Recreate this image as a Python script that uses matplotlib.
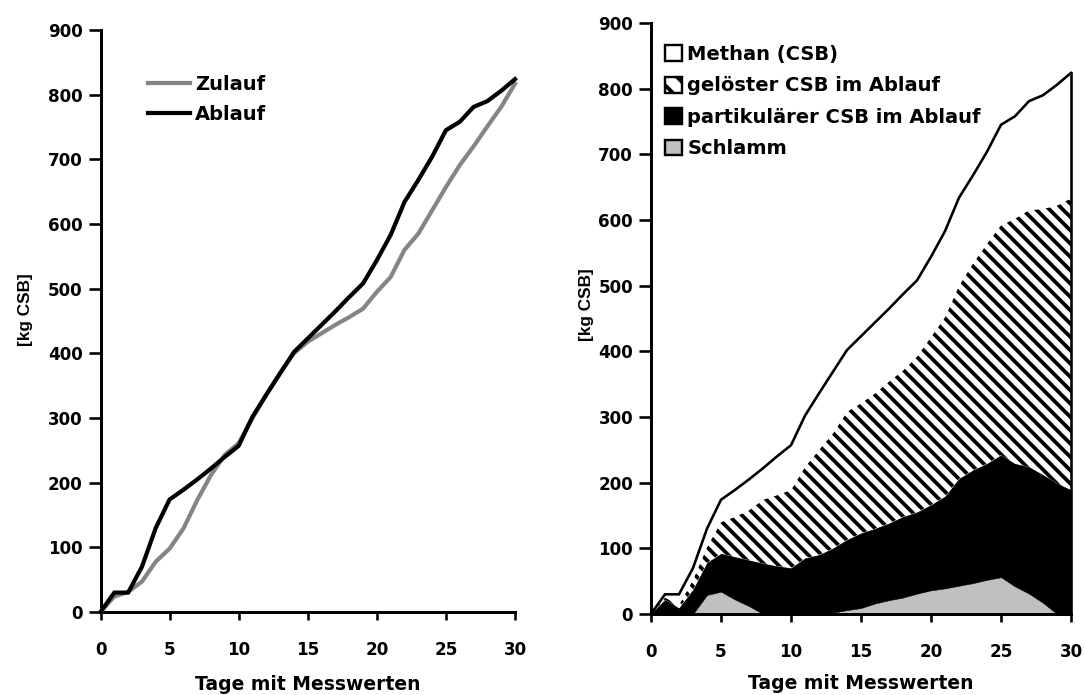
import matplotlib
matplotlib.use("Agg")
import matplotlib.pyplot as plt
from matplotlib.patches import Patch
import numpy as np

# ---- data -------------------------------------------------------------
days = list(range(31))

zulauf = [0, 24, 31, 47, 78, 98, 129, 173, 212, 243, 261, 300, 336, 370, 400,
          418, 431, 444, 456, 469, 495, 518, 560, 585, 621, 657, 691, 720, 751,
          781, 817]
ablauf = [0, 30, 30, 70, 130, 174, 189, 205, 222, 240, 257, 302, 336, 369, 402,
          423, 444, 465, 487, 508, 544, 583, 634, 668, 704, 745, 758, 781, 790,
          806, 824]

schlamm = [0, 0, 0, 0, 29, 34, 22, 12, 0, 0, 0, 0, 0, 2, 6, 9, 16, 21, 25, 31,
           36, 39, 43, 47, 52, 56, 42, 31, 17, 0, 0]
partikulaer = [0, 22, 9, 37, 49, 58, 65, 70, 77, 73, 70, 85, 90, 98, 107, 114,
               114, 117, 123, 124, 130, 140, 163, 172, 177, 186, 187, 193, 195,
               199, 189]
geloest = [0, 3, 5, 15, 24, 48, 61, 76, 97, 108, 119, 139, 160, 175, 195, 198,
           206, 216, 223, 237, 256, 273, 294, 315, 335, 350, 373, 391, 405, 423,
           444]
methan = [0, 5, 16, 18, 28, 34, 41, 47, 48, 59, 68, 78, 86, 94, 94, 102, 108,
          111, 116, 116, 122, 131, 134, 134, 140, 153, 156, 166, 173, 184, 191]

x_ticks = [0, 5, 10, 15, 20, 25, 30]
y_ticks = [0, 100, 200, 300, 400, 500, 600, 700, 800, 900]

left_labels = ["Zulauf", "Ablauf"]
right_labels = ["Methan (CSB)", "gelöster CSB im Ablauf",
                "partikulärer CSB im Ablauf", "Schlamm"]
xlabel = "Tage mit Messwerten"
ylabel = "[kg CSB]"

# ---- styling ----------------------------------------------------------
DPI = 120
W, H = 1085, 695
HATCH = "\\\\\\"


def pt(px):
    """pixel size -> points at the figure dpi"""
    return px * 72.0 / DPI


plt.rcParams["font.family"] = ["DejaVu Sans"]
plt.rcParams["font.weight"] = "bold"
plt.rcParams["hatch.linewidth"] = pt(3.8)

fig = plt.figure(figsize=(W / DPI, H / DPI), dpi=DPI)
fig.patch.set_facecolor("white")

tick_fs = pt(16.8)
legend_fs = pt(19.5)
xlabel_fs = pt(18.8)


def style_axes(ax):
    ax.set_xlim(0, 30)
    ax.set_ylim(0, 900)
    ax.set_xticks(x_ticks)
    ax.set_yticks(y_ticks)
    for s in ("top", "right"):
        ax.spines[s].set_visible(False)
    for s in ("left", "bottom"):
        ax.spines[s].set_linewidth(pt(3))
        ax.spines[s].set_capstyle("projecting")
    ax.tick_params(axis="y", direction="out", length=pt(12), width=pt(2.6),
                   pad=pt(6), labelsize=tick_fs)
    ax.tick_params(axis="x", direction="out", length=pt(8), width=pt(2.6),
                   pad=pt(21), labelsize=tick_fs)
    for lab in ax.get_xticklabels() + ax.get_yticklabels():
        lab.set_fontweight("bold")
    ax.set_xlabel(xlabel, fontsize=xlabel_fs, fontweight="bold")
    ax.set_ylabel(ylabel, fontsize=pt(17.2), fontweight="bold",
                  family=["Liberation Sans", "DejaVu Sans"])
    ax.set_facecolor("none")


# ---- left panel: cumulative loads --------------------------------------
ax1 = fig.add_axes([100.5 / W, 83 / H, 414.5 / W, 582 / H])
ax1.plot(days, zulauf, color="#858585", lw=pt(4.2), solid_joinstyle="miter",
         clip_on=False, label=left_labels[0], zorder=3)
ax1.plot(days, ablauf, color="black", lw=pt(4.2), solid_joinstyle="miter",
         clip_on=False, label=left_labels[1], zorder=4)
style_axes(ax1)
ax1.xaxis.set_label_coords(0.5, -0.108)
ax1.yaxis.set_label_coords(-0.163, 0.519)

leg1 = ax1.legend(loc="upper left", bbox_to_anchor=(148 / W, 1 - 75 / H),
                  bbox_transform=fig.transFigure, frameon=False,
                  fontsize=legend_fs, handlelength=2.15, handletextpad=0.25,
                  borderpad=0, borderaxespad=0, labelspacing=0.54)
for t in leg1.get_texts():
    t.set_fontweight("bold")

# ---- right panel: stacked COD balance ----------------------------------
ax2 = fig.add_axes([651 / W, 81 / H, 420 / W, 591 / H])
d = np.array(days)
s1 = np.array(schlamm, dtype=float)
s2 = s1 + np.array(partikulaer)
s3 = s2 + np.array(geloest)
s4 = s3 + np.array(methan)

ax2.fill_between(d, 0, s1, facecolor="#c0c0c0", edgecolor="#c0c0c0",
                 lw=0.3, zorder=1)
ax2.fill_between(d, s1, s2, facecolor="black", edgecolor="black",
                 lw=0.3, zorder=2)
ax2.fill_between(d, s2, s3, facecolor="white", edgecolor="black",
                 hatch=HATCH, lw=0, zorder=2)
ax2.fill_between(d, s3, s4, facecolor="white", edgecolor="none",
                 lw=0, zorder=2)
ax2.plot(d, s4, color="black", lw=pt(2.6), solid_joinstyle="miter",
         clip_on=False, zorder=4)
ax2.plot([d[-1], d[-1]], [0, s4[-1]], color="black", lw=pt(2.6),
         clip_on=False, zorder=4)
style_axes(ax2)
ax2.xaxis.set_label_coords(0.5, -0.102)
ax2.yaxis.set_label_coords(-0.136, 0.523)

handles = [
    Patch(facecolor="white", edgecolor="black", lw=pt(2.4)),
    Patch(facecolor="white", edgecolor="black", hatch="\\\\", lw=pt(2.4)),
    Patch(facecolor="black", edgecolor="black", lw=pt(2.4)),
    Patch(facecolor="#c0c0c0", edgecolor="black", lw=pt(2.4)),
]
leg2 = ax2.legend(handles, right_labels, loc="upper left",
                  bbox_to_anchor=(665 / W, 1 - 45 / H),
                  bbox_transform=fig.transFigure, frameon=False,
                  fontsize=legend_fs, handlelength=0.85, handleheight=0.85,
                  handletextpad=0.3, borderpad=0, borderaxespad=0,
                  labelspacing=0.64)
for t in leg2.get_texts():
    t.set_fontweight("bold")

fig.savefig("out.png", dpi=DPI, facecolor="white")
